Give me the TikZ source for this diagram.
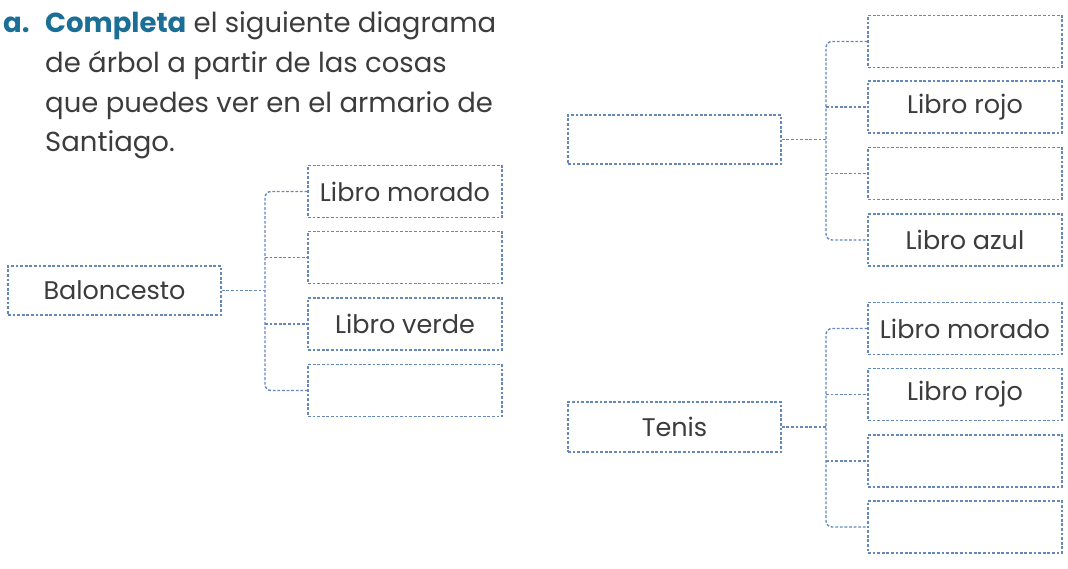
\documentclass[tikz,border=0pt]{standalone}
\usepackage{fontspec}
\setmainfont{Poppins}
\definecolor{dashblue}{HTML}{6488BE}
\definecolor{txt}{HTML}{3C3C3C}
\definecolor{titleblue}{HTML}{1B6E96}
\begin{document}
\begin{tikzpicture}[x=1pt,y=-1pt,
  conn/.style={draw=dashblue,line width=1.4pt,dash pattern=on 2.8pt off 1.8pt},
  box/.style={conn,minimum width=194pt,minimum height=52pt,inner sep=0pt,text=txt,font=\fontsize{25.5}{28}\selectfont},
  pbox/.style={box,minimum width=213pt,minimum height=49pt},
  ttl/.style={anchor=base west,inner sep=0pt,text=txt,font=\fontsize{27.5}{30}\selectfont}]
\useasboundingbox[fill=white] (0,0) rectangle (1068,569);
% title
\node[ttl,text=titleblue,font=\fontsize{27.5}{30}\selectfont\bfseries] (ta) at (3,33) {a.};
\node[ttl] (t1) at (45,33) {{\color{titleblue}\bfseries Completa} el siguiente diagrama};
\node[ttl] (t2) at (45,73) {de árbol a partir de las cosas};
\node[ttl] (t3) at (45,113) {que puedes ver en el armario de};
\node[ttl] (t4) at (45,152) {Santiago.};
% left tree
\node[pbox] (p1) at (114.5,290.5) {Baloncesto};
\node[box] (a1) at (405,191.5) {Libro morado};
\node[box] (a2) at (405,257.5) {};
\node[box] (a3) at (405,324) {Libro verde};
\node[box] (a4) at (405,390.5) {};
\coordinate (j1) at (265,290.5);
\draw[conn] (p1.east) -- (j1);
\draw[conn,rounded corners=6pt] (a1.west) -| (j1) |- (a4.west);
\draw[conn] (j1 |- a2.west) -- (a2.west);
\draw[conn] (j1 |- a3.west) -- (a3.west);
% top right tree
\node[pbox] (p2) at (674.5,139.5) {};
\node[box] (b1) at (965,41.5) {};
\node[box] (b2) at (965,107) {Libro rojo};
\node[box] (b3) at (965,173.5) {};
\node[box] (b4) at (965,240) {Libro azul};
\coordinate (j2) at (826,139.5);
\draw[conn] (p2.east) -- (j2);
\draw[conn,rounded corners=6pt] (b1.west) -| (j2) |- (b4.west);
\draw[conn] (j2 |- b2.west) -- (b2.west);
\draw[conn] (j2 |- b3.west) -- (b3.west);
% bottom right tree
\node[pbox,minimum height=50pt] (p3) at (674.5,427) {Tenis};
\node[box] (c1) at (965,328.5) {Libro morado};
\node[box] (c2) at (965,394.5) {Libro rojo};
\node[box] (c3) at (965,461) {};
\node[box] (c4) at (965,527) {};
\coordinate (j3) at (826,427);
\draw[conn] (p3.east) -- (j3);
\draw[conn,rounded corners=6pt] (c1.west) -| (j3) |- (c4.west);
\draw[conn] (j3 |- c2.west) -- (c2.west);
\draw[conn] (j3 |- c3.west) -- (c3.west);
\end{tikzpicture}
\end{document}
